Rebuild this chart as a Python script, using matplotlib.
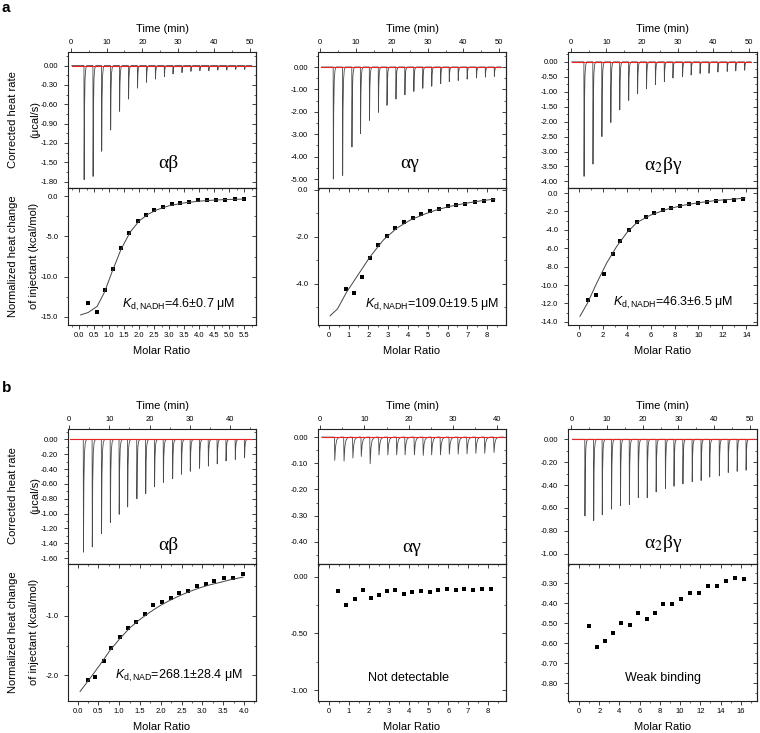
import matplotlib
matplotlib.use("Agg")
import matplotlib.pyplot as plt
from matplotlib.ticker import MultipleLocator, FuncFormatter

plt.rcParams['font.family'] = ['Liberation Sans', 'DejaVu Sans']
plt.rcParams['axes.unicode_minus'] = False
plt.rcParams['mathtext.fontset'] = 'custom'
plt.rcParams['mathtext.rm'] = 'Liberation Sans'
plt.rcParams['mathtext.it'] = 'Liberation Sans:italic'

# ---- a: NADH titrations ----
# alpha-beta
a1_inj_time = [3.7, 6.2, 8.6, 11.1, 13.6, 16.1, 18.6, 21.1, 23.6, 26.1, 28.5, 31.0, 33.5, 36.0, 38.5, 41.0, 43.5, 46.0, 48.5]
a1_inj_peak = [-1.77, -1.72, -1.33, -1.00, -0.71, -0.52, -0.35, -0.26, -0.21, -0.17, -0.13, -0.11, -0.09, -0.08, -0.08, -0.07, -0.07, -0.06, -0.06]
a1_ratio = [0.31, 0.59, 0.86, 1.13, 1.40, 1.67, 1.95, 2.23, 2.51, 2.80, 3.09, 3.38, 3.68, 3.98, 4.28, 4.58, 4.88, 5.19, 5.49]
a1_heat = [-13.3, -14.4, -11.6, -9.1, -6.5, -4.6, -3.1, -2.3, -1.7, -1.36, -1.0, -0.8, -0.75, -0.55, -0.5, -0.45, -0.45, -0.35, -0.4]
a1_fit_x = [0.05, 0.3, 0.6, 0.85, 1.1, 1.4, 1.7, 2.0, 2.3, 2.6, 3.0, 3.5, 4.0, 4.5, 5.0, 5.5]
a1_fit_y = [-14.75, -14.45, -13.7, -11.9, -9.4, -6.6, -4.5, -3.1, -2.25, -1.7, -1.2, -0.85, -0.63, -0.5, -0.42, -0.37]

# alpha-gamma
a2_inj_time = [3.6, 6.2, 8.8, 11.2, 13.7, 16.2, 18.6, 21.1, 23.6, 26.1, 28.6, 31.1, 33.6, 36.0, 38.5, 41.0, 43.6, 46.1, 48.6]
a2_inj_peak = [-5.0, -4.84, -3.57, -2.98, -2.38, -2.02, -1.71, -1.43, -1.24, -1.09, -0.95, -0.86, -0.74, -0.65, -0.60, -0.54, -0.49, -0.45, -0.42]
a2_ratio = [0.87, 1.28, 1.68, 2.08, 2.50, 2.92, 3.36, 3.78, 4.24, 4.66, 5.11, 5.55, 6.00, 6.45, 6.90, 7.38, 7.83, 8.29]
a2_heat = [-4.21, -4.40, -3.69, -2.91, -2.36, -1.96, -1.63, -1.39, -1.21, -1.04, -0.90, -0.81, -0.69, -0.64, -0.60, -0.54, -0.49, -0.46]
a2_fit_x = [0.07, 0.44, 0.9, 1.41, 2.08, 2.76, 3.43, 4.1, 4.77, 5.45, 6.12, 6.79, 7.46, 8.39]
a2_fit_y = [-5.36, -5.07, -4.36, -3.71, -2.86, -2.14, -1.64, -1.30, -1.06, -0.86, -0.71, -0.60, -0.50, -0.40]

# alpha2-beta-gamma
a3_inj_time = [3.7, 6.2, 8.7, 11.2, 13.7, 16.2, 18.7, 21.2, 23.7, 26.2, 28.6, 31.3, 33.7, 36.2, 38.7, 41.2, 43.8, 46.2, 48.7]
a3_inj_peak = [-3.83, -3.42, -2.5, -2.03, -1.61, -1.29, -1.07, -0.9, -0.76, -0.66, -0.54, -0.5, -0.44, -0.39, -0.38, -0.34, -0.32, -0.3, -0.28]
a3_ratio = [0.78, 1.45, 2.12, 2.82, 3.46, 4.16, 4.86, 5.59, 6.28, 7.01, 7.71, 8.46, 9.19, 9.94, 10.7, 11.45, 12.2, 12.99, 13.74]
a3_heat = [-11.65, -11.1, -8.83, -6.67, -5.16, -3.99, -3.19, -2.64, -2.2, -1.87, -1.61, -1.43, -1.21, -1.1, -0.99, -0.88, -0.84, -0.77, -0.7]
a3_fit_x = [0.08, 0.7, 1.48, 2.32, 3.16, 4.0, 4.83, 5.95, 7.35, 8.74, 10.14, 11.54, 12.93, 13.91]
a3_fit_y = [-13.4, -12.0, -9.8, -7.6, -5.8, -4.32, -3.22, -2.42, -1.76, -1.32, -1.03, -0.8, -0.66, -0.55]

# ---- b: NAD+ titrations ----
b1_inj_time = [3.5, 5.7, 8.0, 10.2, 12.4, 14.5, 16.8, 19.0, 21.2, 23.4, 25.7, 27.9, 30.1, 32.4, 34.6, 36.8, 39.0, 41.3, 43.6]
b1_inj_peak = [-1.52, -1.45, -1.27, -1.12, -1.01, -0.91, -0.80, -0.73, -0.64, -0.58, -0.53, -0.47, -0.43, -0.39, -0.36, -0.33, -0.29, -0.27, -0.25]
b1_ratio = [0.24, 0.43, 0.63, 0.80, 1.01, 1.21, 1.40, 1.61, 1.82, 2.03, 2.24, 2.44, 2.65, 2.87, 3.08, 3.29, 3.53, 3.74, 3.97]
b1_heat = [-2.08, -2.02, -1.76, -1.54, -1.36, -1.20, -1.11, -0.97, -0.82, -0.76, -0.70, -0.62, -0.58, -0.50, -0.46, -0.42, -0.36, -0.37, -0.30]
b1_fit_x = [0.06, 0.3, 0.54, 0.78, 1.02, 1.26, 1.5, 1.74, 1.98, 2.22, 2.46, 2.7, 2.94, 3.18, 3.42, 3.7, 3.98]
b1_fit_y = [-2.27, -2.05, -1.82, -1.58, -1.38, -1.20, -1.06, -0.94, -0.83, -0.74, -0.66, -0.59, -0.53, -0.48, -0.44, -0.39, -0.35]

b2_inj_time = [3.2, 5.3, 7.3, 9.2, 11.2, 13.2, 15.2, 17.2, 19.1, 21.2, 23.2, 25.1, 27.1, 29.1, 31.1, 33.1, 35.1, 37.1, 39.2]
b2_inj_peak = [-0.089, -0.092, -0.080, -0.074, -0.102, -0.068, -0.068, -0.068, -0.068, -0.068, -0.070, -0.068, -0.068, -0.065, -0.065, -0.064, -0.062, -0.062, -0.059]
b2_ratio = [0.48, 0.88, 1.29, 1.69, 2.09, 2.50, 2.92, 3.34, 3.77, 4.19, 4.62, 5.06, 5.49, 5.94, 6.38, 6.81, 7.26, 7.71, 8.16]
b2_heat = [-0.13, -0.25, -0.20, -0.115, -0.19, -0.16, -0.13, -0.12, -0.155, -0.14, -0.13, -0.135, -0.115, -0.112, -0.118, -0.112, -0.118, -0.112, -0.106]

b3_inj_time = [3.75, 6.2, 8.6, 11.2, 13.7, 16.2, 18.7, 21.2, 23.7, 26.3, 28.7, 31.2, 33.8, 36.3, 38.7, 41.4, 43.9, 46.4, 48.9]
b3_inj_peak = [-0.67, -0.71, -0.66, -0.61, -0.58, -0.57, -0.51, -0.51, -0.46, -0.43, -0.41, -0.39, -0.37, -0.36, -0.33, -0.32, -0.29, -0.28, -0.27]
b3_ratio = [0.96, 1.75, 2.58, 3.37, 4.2, 5.02, 5.82, 6.68, 7.5, 8.33, 9.22, 10.08, 10.94, 11.83, 12.73, 13.62, 14.51, 15.44, 16.36]
b3_heat = [-0.513, -0.62, -0.59, -0.55, -0.497, -0.508, -0.45, -0.48, -0.447, -0.402, -0.405, -0.378, -0.35, -0.35, -0.315, -0.312, -0.29, -0.272, -0.278]

names = ['αβ', 'αγ', 'α$_2$βγ']
notes = [r'$K_{\mathrm{d,NADH}}$=4.6±0.7 μM', r'$K_{\mathrm{d,NADH}}$=109.0±19.5 μM', r'$K_{\mathrm{d,NADH}}$=46.3±6.5 μM',
         r'$K_{\mathrm{d,NAD}}$=268.1±28.4 μM', 'Not detectable', 'Weak binding']

# shape of one injection peak (time offset in min, fraction of peak depth)
SPIKE_DT = [0.0, 0.05, 0.15, 0.3, 0.5, 0.8]
SPIKE_FRAC = [0.0, 1.0, 0.4, 0.12, 0.03, 0.0]

W, H = 760, 733
COLS = [(68, 256), (318, 506), (568, 757)]
ROWS = [(52, 188, 325), (429, 564, 701)]

panels = [
    dict(row=0, col=0, t=a1_inj_time, p=a1_inj_peak, x=a1_ratio, y=a1_heat, fx=a1_fit_x, fy=a1_fit_y,
         tlim=(-0.75, 51.7), tend=50.5, rlim=(-1.90, 0.21), rstep=(0.3, 0.15),
         xlim=(-0.37, 5.9), xstep=(0.5, 0.25), xfmt='%.1f', ylim=(-16, 1.0), ystep=(5, 2.5), yfmt='%.1f', w=1.0),
    dict(row=0, col=1, t=a2_inj_time, p=a2_inj_peak, x=a2_ratio, y=a2_heat, fx=a2_fit_x, fy=a2_fit_y,
         tlim=(-0.64, 51.9), tend=50.5, rlim=(-5.4, 0.67), rstep=(1.0, 0.5),
         xlim=(-0.54, 8.95), xstep=(1, 0.5), xfmt='%d', ylim=(-5.75, 0.07), ystep=(2, 1), yfmt='%.1f', w=1.0),
    dict(row=0, col=2, t=a3_inj_time, p=a3_inj_peak, x=a3_ratio, y=a3_heat, fx=a3_fit_x, fy=a3_fit_y,
         tlim=(-0.75, 52.2), tend=50.5, rlim=(-4.22, 0.33), rstep=(0.5, 0.25),
         xlim=(-0.92, 14.9), xstep=(2, 1), xfmt='%d', ylim=(-14.35, 0.55), ystep=(2, 1), yfmt='%.1f', w=1.0),
    dict(row=1, col=0, t=b1_inj_time, p=b1_inj_peak, x=b1_ratio, y=b1_heat, fx=b1_fit_x, fy=b1_fit_y,
         tlim=(-0.3, 46.5), tend=45.5, rlim=(-1.68, 0.14), rstep=(0.2, 0.1),
         xlim=(-0.23, 4.29), xstep=(0.5, 0.25), xfmt='%.1f', ylim=(-2.43, -0.13), ystep=(1, 0.5), yfmt='%.1f', w=1.0),
    dict(row=1, col=1, t=b2_inj_time, p=b2_inj_peak, x=b2_ratio, y=b2_heat, fx=None, fy=None,
         tlim=(-0.5, 42.0), tend=41.5, rlim=(-0.485, 0.031), rstep=(0.1, 0.05),
         xlim=(-0.55, 8.9), xstep=(1, 0.5), xfmt='%d', ylim=(-1.095, 0.11), ystep=(0.5, 0.25), yfmt='%.2f', w=1.8),
    dict(row=1, col=2, t=b3_inj_time, p=b3_inj_peak, x=b3_ratio, y=b3_heat, fx=None, fy=None,
         tlim=(-0.95, 52.0), tend=51.5, rlim=(-1.09, 0.09), rstep=(0.2, 0.1),
         xlim=(-1.09, 17.6), xstep=(2, 1), xfmt='%d', ylim=(-0.889, -0.2035), ystep=(0.1, 0.05), yfmt='%.2f', w=1.0),
]

# label positions in pixels
name_pos = [(168, 163), (410, 163), (663, 166), (168, 545), (412, 547), (663, 543)]
note_pos = [(122, 305, 'left'), (365, 305, 'left'), (613, 303, 'left'),
            (115, 676, 'left'), (409, 678, 'center'), (663, 678, 'center')]

fig = plt.figure(figsize=(7.6, 7.33), dpi=100)


def rect(x0, x1, y0, y1):
    return [x0 / W, 1 - y1 / H, (x1 - x0) / W, (y1 - y0) / H]


def fmt(f):
    return FuncFormatter(lambda v, pos: f % (0 if abs(v) < 1e-9 else v))


def set_loc(axis, major, minor, f=None):
    axis.set_major_locator(MultipleLocator(major))
    axis.set_minor_locator(MultipleLocator(minor))
    if f:
        axis.set_major_formatter(fmt(f))


def thermogram(times, peaks, w, tend):
    t, y = [0.3], [0.0]
    for ti, pk in zip(times, peaks):
        for dt, fr in zip(SPIKE_DT, SPIKE_FRAC):
            t.append(ti + dt * w)
            y.append(pk * fr)
    t.append(tend)
    y.append(0.0)
    return t, y


TICK = dict(length=3, width=0.6, labelsize=5.5, color='#222222')
MINOR = dict(length=1.6, width=0.5)

for i, pn in enumerate(panels):
    x0, x1 = COLS[pn['col']]
    ytop, ymid, ybot = ROWS[pn['row']]

    # raw heat rate
    ax = fig.add_axes(rect(x0, x1, ytop, ymid))
    tt, yy = thermogram(pn['t'], pn['p'], pn['w'], pn['tend'])
    ax.plot(tt, yy, color='#4a4a4a', lw=0.6)
    ax.plot([0.3, pn['tend']], [0, 0], color='#ee2222', lw=0.8, zorder=5)
    ax.set_xlim(pn['tlim'])
    ax.set_ylim(pn['rlim'])
    ax.xaxis.tick_top()
    ax.xaxis.set_label_position('top')
    ax.set_xlabel('Time (min)', fontsize=8, labelpad=5)
    set_loc(ax.xaxis, 10, 5, '%d')
    set_loc(ax.yaxis, pn['rstep'][0], pn['rstep'][1], '%.2f')
    ax.tick_params(axis='x', which='both', top=True, bottom=False, direction='out', pad=1.5, **TICK)
    ax.tick_params(axis='y', which='both', left=True, right=False, direction='out', pad=4, **TICK)
    ax.tick_params(which='minor', **MINOR)
    sec = ax.secondary_yaxis('right')
    set_loc(sec.yaxis, pn['rstep'][0], pn['rstep'][1])
    sec.tick_params(which='both', direction='in', labelright=False, **TICK)
    sec.tick_params(which='minor', **MINOR)

    # integrated heats
    bx = fig.add_axes(rect(x0, x1, ymid, ybot))
    bx.plot(pn['x'], pn['y'], 's', color='black', ms=3.5, mew=0)
    if pn['fx'] is not None:
        bx.plot(pn['fx'], pn['fy'], color='#444444', lw=0.7)
    bx.set_xlim(pn['xlim'])
    bx.set_ylim(pn['ylim'])
    bx.set_xlabel('Molar Ratio', fontsize=8, labelpad=5)
    set_loc(bx.xaxis, pn['xstep'][0], pn['xstep'][1], pn['xfmt'])
    set_loc(bx.yaxis, pn['ystep'][0], pn['ystep'][1], pn['yfmt'])
    bx.tick_params(axis='x', which='both', direction='out', pad=2, **TICK)
    bx.tick_params(axis='y', which='both', direction='out', pad=4, **TICK)
    bx.tick_params(which='minor', **MINOR)
    sy = bx.secondary_yaxis('right')
    set_loc(sy.yaxis, pn['ystep'][0], pn['ystep'][1])
    sy.tick_params(which='both', direction='in', labelright=False, **TICK)
    sy.tick_params(which='minor', **MINOR)
    sx = bx.secondary_xaxis('top')
    set_loc(sx.xaxis, pn['xstep'][0], pn['xstep'][1])
    sx.tick_params(which='both', direction='in', labeltop=False, **TICK)
    sx.tick_params(which='minor', **MINOR)

    for a in (ax, bx, sec, sy, sx):
        for s in a.spines.values():
            s.set_linewidth(0.8)
            s.set_color('#222222')

    nx, ny = name_pos[i]
    fig.text(nx / W, 1 - ny / H, names[pn['col']], fontsize=14, family=['Liberation Serif', 'DejaVu Serif'],
             math_fontfamily='stix', ha='center', va='center')
    tx, ty, ha = note_pos[i]
    fig.text(tx / W, 1 - ty / H, notes[i], fontsize=9, ha=ha, va='center')

# y axis titles, first column only
for yc, l1, l2, xa, xb in [(120, 'Corrected heat rate', '(μcal/s)', 13, 35),
                           (256, 'Normalized heat change', 'of injectant (kcal/mol)', 13, 34),
                           (496, 'Corrected heat rate', '(μcal/s)', 13, 35),
                           (632, 'Normalized heat change', 'of injectant (kcal/mol)', 13, 34)]:
    fig.text(xa / W, 1 - yc / H, l1, rotation=90, fontsize=8, ha='center', va='center')
    fig.text(xb / W, 1 - yc / H, l2, rotation=90, fontsize=8, ha='center', va='center')

fig.text(2 / W, 1 - 8 / H, 'a', fontsize=11, fontweight='bold', ha='left', va='center')
fig.text(2 / W, 1 - 388 / H, 'b', fontsize=11, fontweight='bold', ha='left', va='center')

fig.savefig('out.png', dpi=100)
